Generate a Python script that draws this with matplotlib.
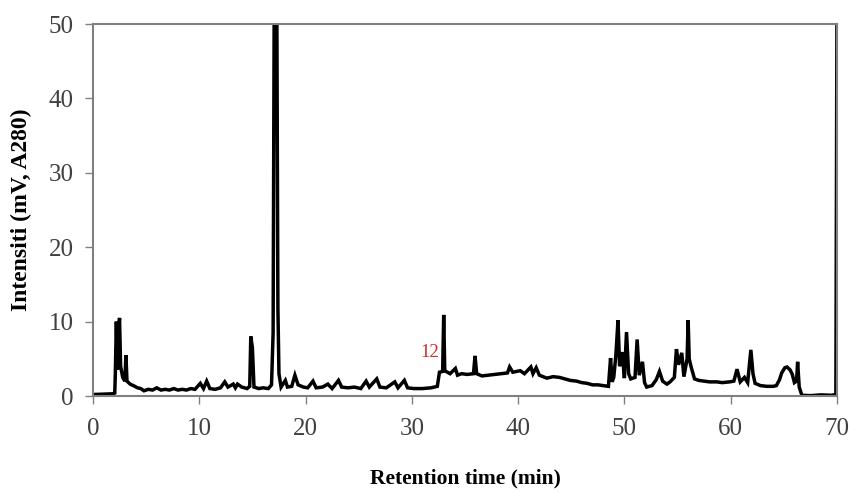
import matplotlib
matplotlib.use("Agg")
import matplotlib.pyplot as plt

# ── Chromatogram trace ────────────────────────────────────────────────────────
time_min = [
    0.0, 1.0, 1.9, 2.05, 2.1, 2.2, 2.3, 2.4, 2.5, 2.6, 2.8, 3.0, 3.1, 3.2, 3.5,
    3.8, 4.2, 4.5, 4.8, 5.2, 5.6, 6.0, 6.4, 6.8, 7.2, 7.6, 8.0, 8.4, 8.8, 9.2,
    9.6, 10.1, 10.4, 10.7, 11.0, 11.5, 12.0, 12.4, 12.7, 13.2, 13.4, 13.6, 14.0,
    14.5, 14.75, 14.85, 15.0, 15.15, 15.6, 16.0, 16.5, 16.8, 16.95, 17.05, 17.3,
    17.4, 17.5, 17.7, 18.1, 18.3, 18.7, 19.0, 19.3, 19.8, 20.2, 20.7, 21.0,
    21.6, 22.1, 22.5, 23.1, 23.4, 24.0, 24.6, 25.2, 25.7, 26.0, 26.7, 27.0,
    27.6, 28.4, 28.7, 29.3, 29.6, 30.2, 31.0, 31.8, 32.4, 32.6, 32.9, 33.0,
    33.1, 33.6, 34.1, 34.3, 34.7, 35.2, 35.8, 35.95, 36.1, 36.6, 37.2, 37.8,
    38.4, 39.0, 39.2, 39.5, 40.2, 40.6, 41.2, 41.4, 41.7, 42.0, 42.7, 43.3,
    43.9, 44.4, 44.9, 45.5, 46.0, 46.5, 47.0, 47.5, 48.0, 48.5, 48.7, 48.85,
    49.0, 49.2, 49.4, 49.55, 49.8, 50.0, 50.2, 50.4, 50.6, 51.0, 51.2, 51.4,
    51.7, 51.9, 52.1, 52.6, 53.0, 53.3, 53.6, 54.0, 54.3, 54.7, 54.9, 55.1,
    55.4, 55.6, 55.9, 56.0, 56.1, 56.3, 56.6, 57.0, 57.5, 58.0, 58.7, 59.2,
    59.9, 60.3, 60.6, 60.9, 61.3, 61.6, 61.9, 62.1, 62.3, 62.8, 63.4, 64.0,
    64.3, 64.6, 64.8, 65.1, 65.3, 65.6, 65.8, 66.0, 66.2, 66.3, 66.45, 66.7,
    67.5, 68.5, 69.5, 69.9, 70.0,
]
intensity_mv = [
    0.2, 0.25, 0.3, 0.4, 2.8, 10.0, 3.5, 8.5, 10.5, 4.0, 2.5, 2.0, 5.5, 2.0, 1.6,
    1.4, 1.1, 1.0, 0.7, 0.9, 0.8, 1.1, 0.8, 0.9, 0.8, 1.0, 0.8, 0.9, 0.8, 1.0,
    0.9, 1.7, 1.0, 2.0, 1.0, 0.9, 1.1, 1.9, 1.2, 1.6, 1.1, 1.6, 1.2,
    1.0, 1.3, 8.0, 6.5, 1.2, 1.0, 1.1, 1.0, 1.5, 8.5, 52.0, 52.0,
    11.8, 3.0, 1.2, 2.1, 1.2, 1.3, 2.8, 1.5, 1.2, 1.1, 2.0, 1.1,
    1.2, 1.6, 1.0, 2.1, 1.2, 1.1, 1.2, 1.0, 2.0, 1.2, 2.3, 1.2,
    1.1, 1.9, 1.1, 2.1, 1.1, 1.0, 1.0, 1.1, 1.3, 3.2, 3.3, 10.9,
    3.4, 3.0, 3.7, 2.8, 3.0, 2.9, 3.0, 5.4, 3.0, 2.7, 2.8, 2.9,
    3.0, 3.1, 3.9, 3.2, 3.4, 3.0, 3.9, 3.0, 3.8, 2.8, 2.4, 2.6,
    2.5, 2.3, 2.1, 2.0, 1.8, 1.7, 1.5, 1.5, 1.4, 1.3, 5.1, 1.9,
    2.5, 5.5, 10.2, 4.0, 5.9, 2.4, 8.6, 3.0, 2.3, 2.5, 7.6, 2.8,
    4.6, 1.8, 1.2, 1.4, 2.2, 3.3, 2.0, 1.6, 1.9, 2.5, 6.3, 4.2,
    5.8, 2.6, 5.0, 10.2, 5.0, 3.8, 2.3, 2.1, 2.0, 1.9, 1.9, 1.8,
    1.9, 2.0, 3.6, 1.9, 2.5, 1.8, 6.2, 3.0, 1.7, 1.4, 1.3, 1.3,
    1.4, 2.2, 3.1, 3.8, 3.9, 3.5, 2.9, 1.8, 2.0, 4.6, 1.2, 0.1,
    0.05, 0.15, 0.1, 0.2, 52.0,
]

x_ticks = [0, 10, 20, 30, 40, 50, 60, 70]
y_ticks = [0, 10, 20, 30, 40, 50]

PEAK_LABEL = "12"
PEAK_LABEL_POS = (31.7, 5.9)

# ── Style ─────────────────────────────────────────────────────────────────────
SERIF = ["Liberation Serif", "DejaVu Serif"]
COLOR_TRACE = "black"
COLOR_FRAME = "#808080"
COLOR_TICKLBL = "#404040"
COLOR_PEAK = "#d0312d"

fig = plt.figure(figsize=(8.49, 4.92), dpi=100)
ax = fig.add_axes([0.1095, 0.1951, 0.8763, 0.7561])

ax.plot(time_min, intensity_mv, color=COLOR_TRACE, linewidth=2.5,
        solid_joinstyle="miter")

ax.text(*PEAK_LABEL_POS, PEAK_LABEL, color=COLOR_PEAK, fontsize=13.5,
        family=SERIF, ha="center", va="center")

ax.set_xlim(0, 70)
ax.set_ylim(0, 50)
ax.set_xticks(x_ticks)
ax.set_yticks(y_ticks)

for sp in ax.spines.values():
    sp.set_color(COLOR_FRAME)
    sp.set_linewidth(1.5)

ax.tick_params(direction="out", length=6, width=1, color=COLOR_FRAME,
               labelcolor=COLOR_TICKLBL, labelsize=18)
ax.tick_params(axis="x", pad=10)
ax.tick_params(axis="y", pad=8)
for lbl in ax.get_xticklabels() + ax.get_yticklabels():
    lbl.set_family(SERIF)

ax.set_xlabel("Retention time (min)", family=SERIF, fontsize=15.5,
              fontweight="bold", labelpad=20)
ax.set_ylabel("Intensiti (mV, A280)", family=SERIF, fontsize=17,
              fontweight="bold", labelpad=12)

fig.savefig("out.png", dpi=100)
